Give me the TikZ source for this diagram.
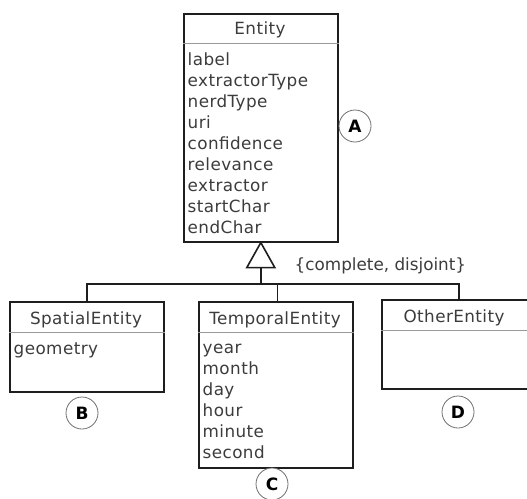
\documentclass[tikz,border=0pt]{standalone}
\usepackage{fontspec}
\setmainfont{DejaVu Sans}
\newfontfamily\umlfont[LetterSpace=2.5]{DejaVu Sans}
\usetikzlibrary{calc}
\definecolor{txt}{HTML}{3C3C3C}
\definecolor{divc}{HTML}{9A9A9A}
\definecolor{boxc}{HTML}{1E1E1E}
\definecolor{circc}{HTML}{707070}
\tikzset{
  umlbox/.style={draw=boxc, line width=1.6pt, anchor=north west, inner sep=0pt, minimum width=154pt},
  divline/.style={draw=divc, line width=0.8pt},
  attr/.style={text=txt, font=\umlfont\fontsize{16.8}{21}\selectfont, inner sep=0pt, anchor=base west},
  title/.style={text=txt, font=\umlfont\fontsize{16.8}{21}\selectfont, inner sep=0pt, anchor=base},
  conn/.style={draw=boxc, line width=1.6pt},
  tag/.style={circle, draw=circc, line width=0.8pt, fill=white, minimum size=32pt, inner sep=0pt, font=\fontsize{17}{17}\bfseries\selectfont},
  note/.style={text=txt, font=\fontsize{16.8}{21}\selectfont, inner sep=0pt, anchor=base west}
}
\begin{document}
\begin{tikzpicture}[x=1pt,y=-1pt]
\clip (0,0) rectangle (527,498);
% Entity
\node[umlbox, minimum height=228pt] (entity) at (183,13) {};
\draw[divline] ($(entity.north west)+(0,30)$) -- ($(entity.north east)+(0,30)$);
\node[title] (entityT) at (260,34) {Entity};
\foreach \t [count=\i from 0] in {label,extractorType,nerdType,uri,confidence,relevance,extractor,startChar,endChar}
  \node[attr] (ea\i) at (187.5,65+21*\i) {\t};
% Spatial
\node[umlbox, minimum height=90pt] (spatial) at (9,301) {};
\draw[divline] ($(spatial.north west)+(0,31)$) -- ($(spatial.north east)+(0,31)$);
\node[title] (spatialT) at (86,324) {SpatialEntity};
\node[attr] (sa0) at (13.5,354) {geometry};
% Temporal
\node[umlbox, minimum height=166pt] (temporal) at (198,301) {};
\draw[divline] ($(temporal.north west)+(0,31)$) -- ($(temporal.north east)+(0,31)$);
\node[title] (temporalT) at (275,324) {TemporalEntity};
\foreach \t [count=\i from 0] in {year,month,day,hour,minute,second}
  \node[attr] (ta\i) at (202.5,353+21*\i) {\t};
% Other
\node[umlbox, minimum height=89pt] (other) at (381,299) {};
\draw[divline] ($(other.north west)+(0,31)$) -- ($(other.north east)+(0,31)$);
\node[title] (otherT) at (454,322) {OtherEntity};
% generalization
\coordinate (tip) at (entity.south);
\coordinate (tribase) at ($(tip)+(0,25)$);
\draw[conn, fill=white, line join=miter] (tip) -- ($(tribase)+(-14,0)$) -- ($(tribase)+(14,0)$) -- cycle;
\coordinate (barL) at ($(spatial.north)+(0,-17)$);
\draw[conn] (tribase) -- (tribase |- barL);
\draw[conn] (spatial.north) -- (barL) -| (other.north);
\draw[conn] ($(temporal.north)+(1.5,0)$) -- ($(temporal.north |- barL)+(1.5,0)$);
\node[note] (gnote) at (294.5,270) {\{complete, disjoint\}};
% tags
\node[tag] (A) at (355,126) {A};
\node[tag] (B) at (82,413) {B};
\node[tag] (C) at (272,484) {C};
\node[tag] (D) at (458,412) {D};
\end{tikzpicture}
\end{document}
